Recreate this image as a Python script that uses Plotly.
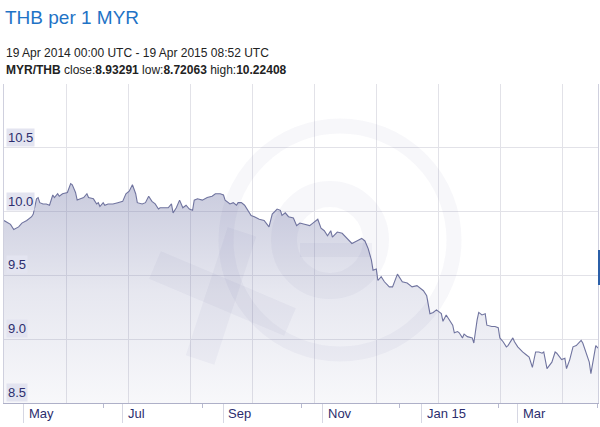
import plotly.graph_objects as go

# MYR/THB daily closes
dates = [
    '2014-04-19', '2014-04-23', '2014-04-25', '2014-04-28', '2014-04-30', '2014-05-03', '2014-05-06',
    '2014-05-07', '2014-05-09', '2014-05-10', '2014-05-11', '2014-05-13', '2014-05-15', '2014-05-17',
    '2014-05-19', '2014-05-20', '2014-05-22', '2014-05-23', '2014-05-25', '2014-05-28', '2014-05-30',
    '2014-05-31', '2014-06-02', '2014-06-03', '2014-06-05', '2014-06-07', '2014-06-09', '2014-06-10',
    '2014-06-13', '2014-06-15', '2014-06-16', '2014-06-17', '2014-06-19', '2014-06-20', '2014-06-22',
    '2014-06-25', '2014-06-28', '2014-07-01', '2014-07-03', '2014-07-05', '2014-07-07', '2014-07-09',
    '2014-07-10', '2014-07-13', '2014-07-15', '2014-07-17', '2014-07-19', '2014-07-21', '2014-07-23',
    '2014-07-24', '2014-07-27', '2014-07-29', '2014-07-31', '2014-08-01', '2014-08-03', '2014-08-05',
    '2014-08-07', '2014-08-09', '2014-08-11', '2014-08-13', '2014-08-14', '2014-08-16', '2014-08-19',
    '2014-08-22', '2014-08-25', '2014-08-27', '2014-08-30', '2014-09-01', '2014-09-02', '2014-09-05',
    '2014-09-07', '2014-09-09', '2014-09-10', '2014-09-12', '2014-09-14', '2014-09-16', '2014-09-18',
    '2014-09-20', '2014-09-23', '2014-09-26', '2014-09-29', '2014-10-01', '2014-10-04', '2014-10-06',
    '2014-10-07', '2014-10-09', '2014-10-11', '2014-10-14', '2014-10-16', '2014-10-18', '2014-10-21',
    '2014-10-24', '2014-10-26', '2014-10-29', '2014-10-31', '2014-11-02', '2014-11-04', '2014-11-06',
    '2014-11-07', '2014-11-10', '2014-11-13', '2014-11-16', '2014-11-19', '2014-11-22', '2014-11-25',
    '2014-11-27', '2014-11-29', '2014-12-01', '2014-12-02', '2014-12-04', '2014-12-05', '2014-12-07',
    '2014-12-09', '2014-12-12', '2014-12-14', '2014-12-17', '2014-12-20', '2014-12-23', '2014-12-26',
    '2014-12-29', '2014-12-31', '2015-01-02', '2015-01-04', '2015-01-06', '2015-01-08', '2015-01-10',
    '2015-01-13', '2015-01-14', '2015-01-16', '2015-01-18', '2015-01-20', '2015-01-21', '2015-01-23',
    '2015-01-24', '2015-01-26', '2015-01-27', '2015-01-29', '2015-02-01', '2015-02-02', '2015-02-04',
    '2015-02-05', '2015-02-07', '2015-02-09', '2015-02-10', '2015-02-13', '2015-02-15', '2015-02-17',
    '2015-02-18', '2015-02-20', '2015-02-22', '2015-02-23', '2015-02-26', '2015-02-27', '2015-03-01',
    '2015-03-03', '2015-03-04', '2015-03-06', '2015-03-08', '2015-03-10', '2015-03-12', '2015-03-14',
    '2015-03-16', '2015-03-17', '2015-03-19', '2015-03-22', '2015-03-24', '2015-03-25', '2015-03-28',
    '2015-03-30', '2015-03-31', '2015-04-02', '2015-04-04', '2015-04-06', '2015-04-09', '2015-04-10',
    '2015-04-12', '2015-04-14', '2015-04-15', '2015-04-17', '2015-04-18', '2015-04-19 08:52',
]
rates = [
    9.93, 9.90, 9.86, 9.88, 9.91, 9.93, 9.96,
    9.98, 10.10, 10.11, 10.07, 10.06, 10.06, 10.05,
    10.13, 10.11, 10.14, 10.12, 10.14, 10.15, 10.22,
    10.21, 10.15, 10.09, 10.10, 10.11, 10.14, 10.11,
    10.10, 10.06, 10.07, 10.04, 10.07, 10.05, 10.06,
    10.06, 10.07, 10.08, 10.14, 10.16, 10.21, 10.14,
    10.07, 10.06, 10.07, 10.12, 10.08, 10.06, 10.02,
    10.03, 10.03, 10.03, 10.06, 9.99, 10.03, 10.09,
    10.03, 10.05, 10.02, 10.01, 10.09, 10.10, 10.09,
    10.11, 10.12, 10.14, 10.14, 10.13, 10.09, 10.06,
    10.07, 10.05, 10.07, 10.07, 10.05, 10.01, 9.97,
    9.96, 9.94, 9.93, 9.88, 9.98, 10.02, 10.01,
    9.97, 9.99, 9.96, 9.95, 9.89, 9.91, 9.90,
    9.89, 9.91, 9.94, 9.87, 9.85, 9.81, 9.85,
    9.80, 9.84, 9.83, 9.79, 9.75, 9.77, 9.79,
    9.77, 9.71, 9.62, 9.54, 9.55, 9.46, 9.49,
    9.45, 9.41, 9.41, 9.51, 9.45, 9.44, 9.41,
    9.42, 9.40, 9.38, 9.34, 9.20, 9.21, 9.23,
    9.20, 9.14, 9.19, 9.15, 9.11, 9.05, 9.06,
    9.05, 9.01, 9.04, 9.02, 9.01, 8.97, 9.15,
    9.21, 9.19, 9.20, 9.11, 9.10, 9.10, 9.09,
    9.01, 8.98, 8.94, 8.95, 9.01, 8.98, 8.94,
    8.91, 8.90, 8.88, 8.86, 8.78, 8.90, 8.90,
    8.89, 8.90, 8.77, 8.82, 8.90, 8.89, 8.84,
    8.85, 8.77, 8.84, 8.94, 8.95, 8.99, 8.97,
    8.90, 8.82, 8.73, 8.86, 8.95, 8.93,
]

month_ticks = ['2014-05-01', '2014-07-01', '2014-09-01', '2014-11-01', '2015-01-01', '2015-03-01']
month_labels = ['May', 'Jul', 'Sep', 'Nov', 'Jan 15', 'Mar']
minor_ticks = ['2014-06-19', '2014-08-19', '2014-10-19', '2014-12-18', '2015-02-17', '2015-04-19']
y_labels = [8.5, 9.0, 9.5, 10.0, 10.5]

title = 'THB per 1 MYR'
period = '19 Apr 2014 00:00 UTC - 19 Apr 2015 08:52 UTC'
summary = '<b>MYR/THB</b> close:<b>8.93291</b> low:<b>8.72063</b> high:<b>10.22408</b>'

W, H = 600, 427
FONT = 'Arial, Liberation Sans, sans-serif'
NAVY = '#2c2e6e'
X0, X1 = 4 / W, 598 / W
Y0, Y1 = 1 - 403 / H, 1 - 84 / H


def px(x):
    return x / W


def py(y):
    return 1 - y / H


fig = go.Figure()

fig.add_trace(go.Scatter(
    x=dates, y=rates,
    mode='lines',
    line={'color': '#70749f', 'width': 1.1},
    fill='tozeroy',
    fillgradient={
        'type': 'vertical',
        'start': 8.5,
        'stop': 10.25,
        'colorscale': [[0, 'rgba(110,115,165,0.05)'], [0.5, 'rgba(110,115,165,0.17)'],
                       [1, 'rgba(110,115,165,0.38)']],
    },
    hoverinfo='skip',
    showlegend=False,
))
# empty trace so the overlay grid axis gets drawn
fig.add_trace(go.Scatter(x=[], y=[], xaxis='x2', showlegend=False, hoverinfo='skip'))

annotations = [
    dict(text=title, x=px(3), y=py(17), xanchor='left', yanchor='middle',
         font={'size': 19, 'color': '#1f73c6'}),
    dict(text=period, x=px(4), y=py(53), xanchor='left', yanchor='middle',
         font={'size': 12, 'color': '#222222'}),
    dict(text=summary, x=px(4), y=py(70), xanchor='left', yanchor='middle',
         font={'size': 12, 'color': '#222222'}),
]
for v in y_labels:
    annotations.append(dict(
        text=f'{v:.1f}', x=X0, y=v, xref='paper', yref='y',
        xanchor='left', yanchor='bottom', xshift=2, yshift=1,
        bgcolor='#e3e4f0', borderpad=1,
        font={'size': 13, 'color': NAVY},
    ))
for d, lab in zip(month_ticks, month_labels):
    annotations.append(dict(
        text=lab, x=d, y=py(413), xref='x', yref='paper',
        xanchor='left', yanchor='middle', xshift=3,
        font={'size': 13, 'color': NAVY},
    ))
for a in annotations:
    a.setdefault('xref', 'paper')
    a.setdefault('yref', 'paper')
    a['showarrow'] = False

# faint "xe" watermark
wm = 'rgba(70,75,140,0.045)'
shapes = [
    dict(type='circle', x0=px(226), x1=px(454), y0=py(354), y1=py(126),
         line={'color': wm, 'width': 15}),
    dict(type='circle', x0=px(284), x1=px(376), y0=py(286), y1=py(194),
         line={'color': wm, 'width': 26}),
    dict(type='line', x0=px(300), x1=px(372), y0=py(250), y1=py(250),
         line={'color': wm, 'width': 14}),
    dict(type='line', x0=px(155), x1=px(290), y0=py(265), y1=py(322),
         line={'color': wm, 'width': 30}),
    dict(type='line', x0=px(242), x1=px(200), y0=py(232), y1=py(360),
         line={'color': wm, 'width': 30}),
    dict(type='rect', x0=px(598), x1=px(600), y0=py(285), y1=py(250),
         fillcolor='#2b5fa8', line={'width': 0}),
]
for s in shapes:
    s['xref'] = 'paper'
    s['yref'] = 'paper'
    s['layer'] = 'above'

fig.update_layout(
    width=W, height=H,
    margin={'l': 0, 'r': 0, 't': 0, 'b': 0},
    paper_bgcolor='white',
    plot_bgcolor='white',
    font={'family': FONT, 'size': 12, 'color': NAVY},
    showlegend=False,
    annotations=annotations,
    shapes=shapes,
    xaxis=dict(
        type='date',
        domain=[X0, X1],
        range=['2014-04-19', '2015-04-19 08:52'],
        showgrid=False,
        zeroline=False,
        tickmode='array',
        tickvals=month_ticks,
        ticks='outside', ticklen=19, tickcolor='#d6d7e3', tickwidth=1,
        showticklabels=False,
        minor={'tickvals': minor_ticks, 'ticks': 'outside', 'ticklen': 4,
               'tickcolor': '#b8bad0', 'showgrid': False},
        showline=True, linecolor='#aeb0c8', linewidth=1,
    ),
    xaxis2=dict(
        overlaying='x', anchor='y',
        domain=[X0, X1],
        range=[0, 594], tick0=0, dtick=62,
        showgrid=True, gridcolor='#e2e2e8', gridwidth=1,
        zeroline=False, showticklabels=False, ticks='',
    ),
    yaxis=dict(
        domain=[Y0, Y1],
        range=[8.5, 11.0],
        dtick=0.5, tick0=8.5,
        showgrid=True, gridcolor='#e2e2e8', gridwidth=1,
        zeroline=False, showticklabels=False, ticks='',
        showline=True, linecolor='#cfd0de', linewidth=1, mirror=True,
    ),
)

fig.write_html('out.html', config={'displayModeBar': False},
               post_script="document.body.style.margin='0';")
